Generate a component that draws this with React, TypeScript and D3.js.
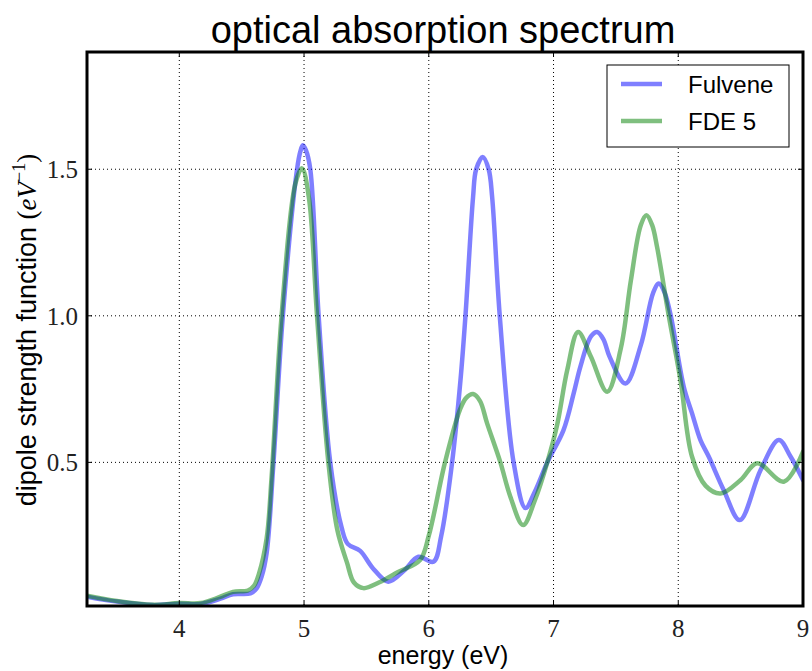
import React from "react";
import * as d3 from "d3";

const energyFulvene = [3.26, 3.5, 3.79, 4.0, 4.17, 4.33, 4.43, 4.57, 4.62, 4.66, 4.7, 4.755, 4.83, 4.944, 4.97, 4.99, 5.015, 5.05, 5.117, 5.21, 5.3, 5.35, 5.45, 5.55, 5.675, 5.8, 5.917, 6.037, 6.1, 6.187, 6.254, 6.294, 6.355, 6.38, 6.433, 6.48, 6.508, 6.569, 6.68, 6.775, 6.85, 6.95, 7.08, 7.162, 7.215, 7.3, 7.35, 7.4, 7.45, 7.577, 7.7, 7.8, 7.844, 7.89, 7.94, 8.044, 8.11, 8.178, 8.245, 8.365, 8.493, 8.66, 8.806, 8.9, 9.0];
const fulvene = [0.042, 0.025, 0.013, 0.018, 0.017, 0.035, 0.05, 0.053, 0.07, 0.11, 0.19, 0.5, 1.0, 1.5, 1.56, 1.582, 1.565, 1.5, 1.0, 0.5, 0.28, 0.222, 0.198, 0.14, 0.093, 0.13, 0.178, 0.161, 0.25, 0.5, 0.78, 1.0, 1.405, 1.5, 1.542, 1.5, 1.405, 1.0, 0.5, 0.344, 0.4, 0.5, 0.61, 0.736, 0.826, 0.93, 0.945, 0.92, 0.86, 0.769, 0.9, 1.08, 1.11, 1.08, 1.0, 0.758, 0.668, 0.576, 0.519, 0.405, 0.303, 0.474, 0.576, 0.52, 0.44];

const energyFDE = [3.26, 3.5, 3.79, 4.0, 4.17, 4.32, 4.43, 4.55, 4.6, 4.64, 4.7, 4.74, 4.82, 4.93, 4.984, 5.04, 5.104, 5.195, 5.267, 5.345, 5.4, 5.476, 5.6, 5.75, 5.93, 6.0, 6.13, 6.25, 6.3, 6.355, 6.41, 6.467, 6.574, 6.654, 6.756, 6.85, 6.95, 7.03, 7.11, 7.197, 7.3, 7.43, 7.54, 7.62, 7.7, 7.745, 7.79, 7.83, 7.924, 8.018, 8.11, 8.22, 8.339, 8.5, 8.633, 8.846, 9.0];
const fde5 = [0.045, 0.027, 0.014, 0.02, 0.02, 0.04, 0.058, 0.063, 0.08, 0.122, 0.24, 0.45, 1.0, 1.45, 1.503, 1.4, 1.0, 0.5, 0.269, 0.157, 0.09, 0.071, 0.09, 0.125, 0.167, 0.25, 0.5, 0.68, 0.72, 0.733, 0.71, 0.634, 0.5, 0.383, 0.286, 0.37, 0.5, 0.63, 0.815, 0.945, 0.86, 0.741, 0.89, 1.12, 1.31, 1.343, 1.31, 1.235, 1.0, 0.78, 0.52, 0.42, 0.394, 0.44, 0.497, 0.434, 0.536];

const xTicks = [4, 5, 6, 7, 8, 9];
const yTicks = [0.5, 1.0, 1.5];
const seriesNames = ["Fulvene", "FDE 5"];
const seriesColors = ["#0000ff", "#008000"];

const W = 812;
const H = 671;
const L = 87, R = 803, T = 52, B = 606;

export default function App() {
  const x = d3.scaleLinear().domain([3.26, 9]).range([L, R]);
  const y = d3.scaleLinear().domain([0.01, 1.9]).range([B, T]);
  const line = d3
    .line<[number, number]>()
    .x((d) => x(d[0]))
    .y((d) => y(d[1]))
    .curve(d3.curveCatmullRom.alpha(0.5));
  const series = [
    energyFulvene.map((e, i) => [e, fulvene[i]] as [number, number]),
    energyFDE.map((e, i) => [e, fde5[i]] as [number, number]),
  ];
  const sans = "'Liberation Sans', Arial, Helvetica, sans-serif";
  const serif = "'Liberation Serif', 'DejaVu Serif', serif";
  return (
    <svg width={W} height={H} style={{ position: "absolute", left: 0, top: 0, background: "#fff" }}>
      <defs>
        <clipPath id="plotclip">
          <rect x={L} y={T} width={R - L} height={B - T} />
        </clipPath>
      </defs>
      <rect x={0} y={0} width={W} height={H} fill="#fff" />
      {xTicks.map((t) => (
        <line key={"gx" + t} x1={x(t)} x2={x(t)} y1={T} y2={B} stroke="#000" strokeWidth={1} strokeDasharray="1,3" />
      ))}
      {yTicks.map((t) => (
        <line key={"gy" + t} x1={L} x2={R} y1={y(t)} y2={y(t)} stroke="#000" strokeWidth={1} strokeDasharray="1,3" />
      ))}
      <g clipPath="url(#plotclip)">
        {series.map((s, i) => (
          <path key={i} d={line(s) || ""} fill="none" stroke={seriesColors[i]} strokeOpacity={0.5} strokeWidth={4.5} strokeLinejoin="round" strokeLinecap="round" />
        ))}
      </g>
      {xTicks.map((t) => (
        <g key={"tx" + t}>
          <line x1={x(t)} x2={x(t)} y1={B} y2={B - 5} stroke="#000" strokeWidth={1} />
          <line x1={x(t)} x2={x(t)} y1={T} y2={T + 5} stroke="#000" strokeWidth={1} />
          <text x={x(t)} y={637} textAnchor="middle" fontFamily={serif} fontSize={25} fill="#222">
            {t}
          </text>
        </g>
      ))}
      {yTicks.map((t) => (
        <g key={"ty" + t}>
          <line x1={L} x2={L + 5} y1={y(t)} y2={y(t)} stroke="#000" strokeWidth={1} />
          <line x1={R} x2={R - 5} y1={y(t)} y2={y(t)} stroke="#000" strokeWidth={1} />
          <text x={78} y={y(t)} dy="0.35em" textAnchor="end" fontFamily={serif} fontSize={25} fill="#222">
            {t.toFixed(1)}
          </text>
        </g>
      ))}
      <rect x={L} y={T} width={R - L} height={B - T} fill="none" stroke="#000" strokeWidth={3} />
      <text x={443} y={43} textAnchor="middle" fontFamily={sans} fontSize={38} fill="#000">
        optical absorption spectrum
      </text>
      <text x={443} y={664} textAnchor="middle" fontFamily={sans} fontSize={25} fill="#000">
        energy (eV)
      </text>
      <text transform={`translate(36, ${330}) rotate(-90)`} textAnchor="middle" fontFamily={sans} fontSize={27} fill="#000">
        dipole strength function{" "}
        <tspan fontFamily={serif}>(</tspan>
        <tspan fontFamily={serif} fontStyle="italic">eV</tspan>
        <tspan fontFamily={serif} fontSize={18} dy={-11}>−1</tspan>
        <tspan fontFamily={serif} dy={11}>)</tspan>
      </text>
      <rect x={607} y={65} width={182} height={82} fill="#fff" stroke="#000" strokeWidth={1} />
      {seriesNames.map((n, i) => (
        <g key={n}>
          <line x1={621} x2={662} y1={84 + i * 37} y2={84 + i * 37} stroke={seriesColors[i]} strokeOpacity={0.5} strokeWidth={4.5} />
          <text x={688} y={84 + i * 37} dy="0.36em" fontFamily={sans} fontSize={24} fill="#000">
            {n}
          </text>
        </g>
      ))}
    </svg>
  );
}
